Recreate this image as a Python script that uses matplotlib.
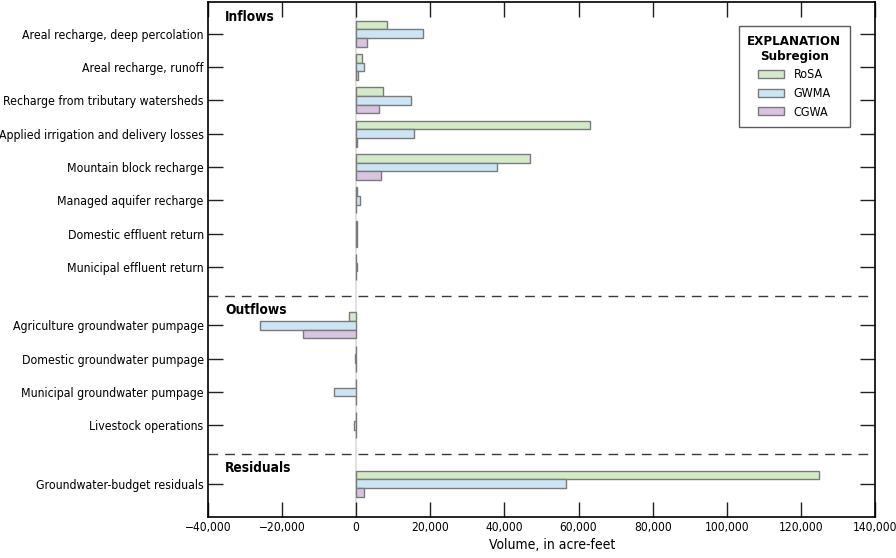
import numpy as np
import matplotlib.pyplot as plt

plt.rcParams['font.family'] = ['DejaVu Sans']
plt.rcParams['font.stretch'] = 'condensed'

# budget components, values in acre-feet
inflow_names = ['Areal recharge, deep percolation', 'Areal recharge, runoff',
                'Recharge from tributary watersheds', 'Applied irrigation and delivery losses',
                'Mountain block recharge', 'Managed aquifer recharge',
                'Domestic effluent return', 'Municipal effluent return']
outflow_names = ['Agriculture groundwater pumpage', 'Domestic groundwater pumpage',
                 'Municipal groundwater pumpage', 'Livestock operations']
residual_names = ['Groundwater-budget residuals']

rosa = [8300, 1600, 7200, 63200, 47000, 100, 100, 50,
        -1900, -100, -50, -100,
        125000]
gwma = [18100, 2000, 14800, 15600, 38100, 1100, 200, 150,
        -25900, -350, -6000, -600,
        56600]
cgwa = [2900, 500, 6200, 300, 6700, 50, 100, 50,
        -14300, -150, -50, -100,
        2100]

subregions = ['RoSA', 'GWMA', 'CGWA']
colors = ['#d3eac8', '#cde4f5', '#d9c3e0']

# row positions: sections separated by a gap
gap = 0.75
pos_in = np.arange(1, len(inflow_names) + 1)
pos_out = pos_in[-1] + 1 + gap + np.arange(len(outflow_names))
pos_res = pos_out[-1] + 1 + gap + np.arange(len(residual_names))
ypos = np.concatenate([pos_in, pos_out, pos_res])
names = inflow_names + outflow_names + residual_names

fig = plt.figure(figsize=(8.96, 5.58), dpi=100)
ax = fig.add_axes([0.232, 0.0735, 0.7446, 0.9229])

ax.axvline(0, color='#dcdcdc', lw=1.2, zorder=0)

h = 0.26
for i, (vals, lab, c) in enumerate(zip([rosa, gwma, cgwa], subregions, colors)):
    ax.barh(ypos + (i - 1) * h, vals, height=h, color=c, edgecolor='#7a7a7a',
            linewidth=1, label=lab, zorder=2)

# section separators and labels
sep1 = (pos_in[-1] + pos_out[0]) / 2
sep2 = (pos_out[-1] + pos_res[0]) / 2
for s in [sep1, sep2]:
    ax.axhline(s, color='#3a3a3a', lw=1, linestyle=(0, (7, 5)), zorder=1)

for ty, txt in [(0.5, 'Inflows'), (sep1 + 0.42, 'Outflows'), (sep2 + 0.4, 'Residuals')]:
    ax.text(0.026, ty, txt, transform=ax.get_yaxis_transform(), fontsize=9.8,
            fontweight='bold', va='center', ha='left')

ax.set_ylim(pos_res[-1] + 1, 0.05)
ax.set_yticks(ypos)
ax.set_yticklabels(names, fontsize=8.8)

xt = np.arange(-40000, 140001, 20000)
ax.set_xlim(-40000, 140000)
ax.set_xticks(xt)
ax.set_xticklabels([f'{v:,}'.replace('-', '\u2212') for v in xt], fontsize=8.6)
ax.set_xlabel('Volume, in acre-feet', fontsize=10, labelpad=3, x=0.516)

ax.tick_params(axis='both', direction='in', length=11, width=1, top=True, right=True,
               color='#222222', pad=3)
for sp in ax.spines.values():
    sp.set_linewidth(1.2)

# legend
leg = ax.legend(title='EXPLANATION\nSubregion', loc='upper right',
                bbox_to_anchor=(0.9625, 0.9534), borderaxespad=0, fontsize=9,
                title_fontproperties={'weight': 'bold', 'size': 9.5},
                frameon=True, fancybox=False, edgecolor='#333333',
                handlelength=2.1, handleheight=0.6, labelspacing=0.45,
                borderpad=0.7, handletextpad=0.8)
leg.get_title().set_multialignment('center')
leg.get_frame().set_linewidth(1)

fig.savefig('out.png', dpi=100)
